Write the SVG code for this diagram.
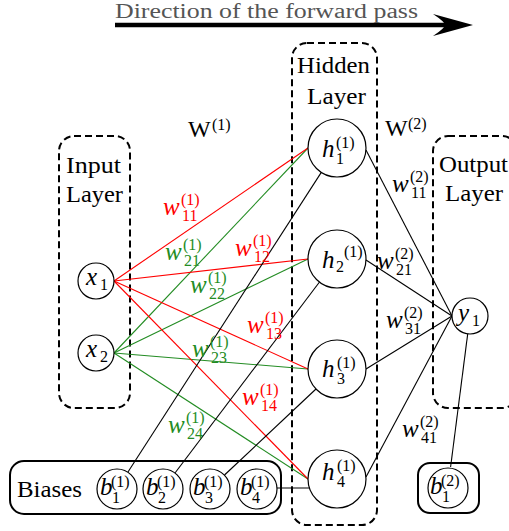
<svg xmlns="http://www.w3.org/2000/svg" width="509" height="531" viewBox="0 0 509 531">
<style>
.t{font-family:"Liberation Serif","DejaVu Serif",serif;font-size:24px;fill:#000}
.m{font-family:"Liberation Serif","DejaVu Serif",serif;font-style:italic;font-size:25px}
.s{font-family:"Liberation Serif","DejaVu Serif",serif;font-size:16px}
.box{fill:none;stroke:#000;stroke-width:2;stroke-dasharray:7,4}
.sbox{fill:none;stroke:#000;stroke-width:2}
.node{fill:#fff;stroke:#000;stroke-width:1.2}
.r{stroke:#ff0000;stroke-width:1.1;fill:none}
.g{stroke:#238c23;stroke-width:1.1;fill:none}
.k{stroke:#000;stroke-width:1.1;fill:none}
.red text{fill:#ff0000}
.grn text{fill:#238c23}
</style>

<!-- forward pass arrow -->
<g id="direction">
<line x1="115" y1="25" x2="447" y2="25" stroke="#000" stroke-width="4.5"/>
<path d="M473,25 L433,14 Q445,22 445,25 Q445,28 433,36 Z" fill="#000"/>
<text x="115" y="18" style="font-family:'Liberation Serif','DejaVu Serif',serif;font-size:20px;fill:#555" textLength="303" lengthAdjust="spacingAndGlyphs">Direction of the forward pass</text>
</g>

<!-- layer boxes -->
<g id="input-layer">
<rect class="box" x="59" y="136" width="71" height="272" rx="15"/>
<text class="t" x="66" y="173" textLength="55" lengthAdjust="spacingAndGlyphs">Input</text>
<text class="t" x="66" y="202" textLength="57" lengthAdjust="spacingAndGlyphs">Layer</text>
</g>
<g id="hidden-layer">
<rect class="box" x="292" y="43" width="85" height="482" rx="15"/>
<text class="t" x="297" y="73" textLength="73" lengthAdjust="spacingAndGlyphs">Hidden</text>
<text class="t" x="307" y="104" textLength="59" lengthAdjust="spacingAndGlyphs">Layer</text>
</g>
<g id="output-layer">
<rect class="box" x="433" y="136" width="84" height="272" rx="15"/>
<text class="t" x="439" y="172" textLength="69" lengthAdjust="spacingAndGlyphs">Output</text>
<text class="t" x="445" y="201" textLength="58" lengthAdjust="spacingAndGlyphs">Layer</text>
</g>

<!-- connectors -->
<g id="connectors">
<line class="g" x1="114" y1="353" x2="308" y2="148"/>
<line class="g" x1="114" y1="353" x2="308" y2="259"/>
<line class="g" x1="114" y1="353" x2="308" y2="369"/>
<line class="g" x1="114" y1="353" x2="308" y2="479"/>
<line class="r" x1="114" y1="281" x2="308" y2="148"/>
<line class="r" x1="114" y1="281" x2="308" y2="259"/>
<line class="r" x1="114" y1="281" x2="308" y2="369"/>
<line class="r" x1="114" y1="281" x2="308" y2="479"/>
<line class="k" x1="127.8" y1="472.2" x2="321.3" y2="172.4"/>
<line class="k" x1="175" y1="473" x2="319.5" y2="282"/>
<line class="k" x1="224.5" y1="475" x2="316" y2="389"/>
<line class="k" x1="277" y1="488" x2="309.5" y2="488"/>
<line class="k" x1="366" y1="150" x2="452" y2="316"/>
<line class="k" x1="366" y1="260" x2="452" y2="316"/>
<line class="k" x1="366" y1="369" x2="452" y2="316"/>
<line class="k" x1="366" y1="477" x2="452" y2="316"/>
<line class="k" x1="467.7" y1="333.9" x2="450.6" y2="467"/>
</g>

<!-- matrix labels -->
<g id="W1"><text class="t" x="188" y="137">W</text><text class="s" x="212" y="130">(1)</text></g>
<g id="W2"><text class="t" x="385" y="136">W</text><text class="s" x="408" y="129">(2)</text></g>

<!-- weight labels layer 1 -->
<g id="w-labels-1">
<g class="red" transform="translate(163,215)"><text class="m">w</text><text class="s" x="18" y="-10">(1)</text><text class="s" x="19" y="6">11</text></g>
<g class="grn" transform="translate(165,260)"><text class="m">w</text><text class="s" x="18" y="-10">(1)</text><text class="s" x="19" y="6">21</text></g>
<g class="red" transform="translate(235,256)"><text class="m">w</text><text class="s" x="18" y="-10">(1)</text><text class="s" x="19" y="6">12</text></g>
<g class="grn" transform="translate(190,293)"><text class="m">w</text><text class="s" x="18" y="-10">(1)</text><text class="s" x="19" y="6">22</text></g>
<g class="red" transform="translate(247,333)"><text class="m">w</text><text class="s" x="18" y="-10">(1)</text><text class="s" x="19" y="6">13</text></g>
<g class="grn" transform="translate(192,357)"><text class="m">w</text><text class="s" x="18" y="-10">(1)</text><text class="s" x="19" y="6">23</text></g>
<g class="red" transform="translate(242,405)"><text class="m">w</text><text class="s" x="18" y="-10">(1)</text><text class="s" x="19" y="6">14</text></g>
<g class="grn" transform="translate(168,433)"><text class="m">w</text><text class="s" x="18" y="-10">(1)</text><text class="s" x="19" y="6">24</text></g>
</g>

<!-- weight labels layer 2 -->
<g id="w-labels-2">
<g transform="translate(392,192)"><text class="m">w</text><text class="s" x="18" y="-10">(2)</text><text class="s" x="19" y="6">11</text></g>
<g transform="translate(377,269)"><text class="m">w</text><text class="s" x="18" y="-10">(2)</text><text class="s" x="19" y="6">21</text></g>
<g transform="translate(386,328)"><text class="m">w</text><text class="s" x="18" y="-10">(2)</text><text class="s" x="19" y="6">31</text></g>
<g transform="translate(402,437)"><text class="m">w</text><text class="s" x="18" y="-10">(2)</text><text class="s" x="19" y="6">41</text></g>
</g>

<!-- input nodes -->
<g id="x1"><circle class="node" cx="96" cy="281" r="18"/><text class="m" x="86" y="285">x</text><text class="s" x="100" y="290">1</text></g>
<g id="x2"><circle class="node" cx="96" cy="353" r="18"/><text class="m" x="86" y="357">x</text><text class="s" x="100" y="362">2</text></g>

<!-- hidden nodes -->
<g id="h1"><circle class="node" cx="337" cy="148" r="29"/><text class="m" x="322" y="157">h</text><text class="s" x="336" y="148">(1)</text><text class="s" x="336" y="164">1</text></g>
<g id="h2"><circle class="node" cx="337" cy="259" r="29"/><text class="m" x="322" y="268">h</text><text class="s" x="336" y="272">2</text><text class="s" x="344" y="257">(1)</text></g>
<g id="h3"><circle class="node" cx="337" cy="369" r="29"/><text class="m" x="322" y="377">h</text><text class="s" x="337" y="368">(1)</text><text class="s" x="337" y="384">3</text></g>
<g id="h4"><circle class="node" cx="337" cy="479" r="29"/><text class="m" x="322" y="480">h</text><text class="s" x="337" y="471">(1)</text><text class="s" x="337" y="487">4</text></g>

<!-- output node -->
<g id="y1"><circle class="node" cx="470" cy="316" r="18"/><text class="m" x="458" y="321">y</text><text class="s" x="472" y="326">1</text></g>

<!-- biases -->
<g id="biases">
<rect class="sbox" x="10" y="461" width="271" height="53" rx="14"/>
<text class="t" x="17" y="497" textLength="65" lengthAdjust="spacingAndGlyphs">Biases</text>
</g>
<g id="b1"><circle class="node" cx="117" cy="489" r="20"/><text class="m" x="100" y="495">b</text><text class="s" x="111" y="487">(1)</text><text class="s" x="112" y="503">1</text></g>
<g id="b2"><circle class="node" cx="163" cy="489" r="20"/><text class="m" x="146" y="495">b</text><text class="s" x="157" y="487">(1)</text><text class="s" x="158" y="503">2</text></g>
<g id="b3"><circle class="node" cx="210" cy="489" r="20"/><text class="m" x="193" y="495">b</text><text class="s" x="204" y="487">(1)</text><text class="s" x="205" y="503">3</text></g>
<g id="b4"><circle class="node" cx="257" cy="489" r="20"/><text class="m" x="240" y="495">b</text><text class="s" x="251" y="487">(1)</text><text class="s" x="252" y="503">4</text></g>
<g id="b-out">
<rect class="sbox" x="418" y="463" width="61" height="50" rx="12"/>
<circle class="node" cx="448" cy="488" r="20"/><text class="m" x="430" y="494">b</text><text class="s" x="441" y="486">(2)</text><text class="s" x="442" y="502">1</text>
</g>
</svg>
